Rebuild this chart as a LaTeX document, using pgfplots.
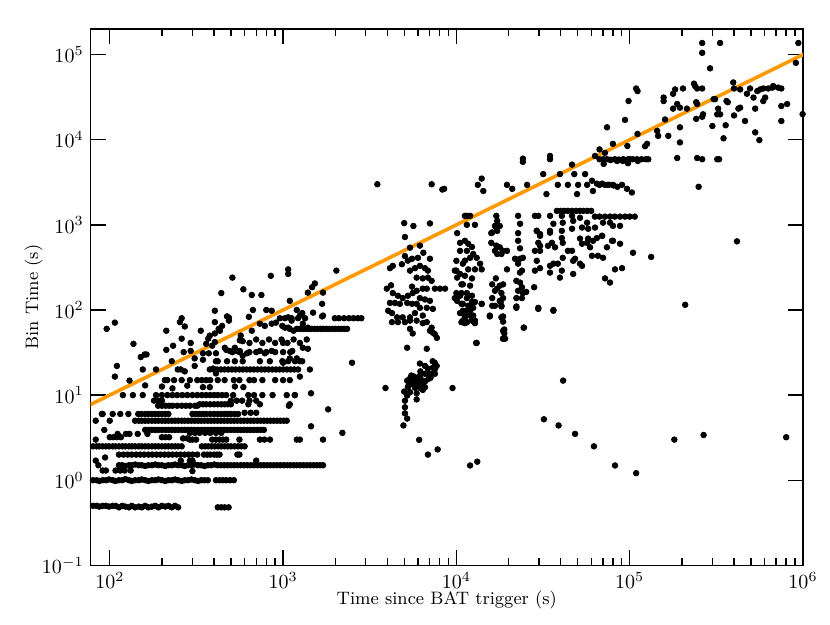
\documentclass[border=0pt]{standalone}
\usepackage{pgfplots}
\pgfplotsset{compat=1.18}
\usetikzlibrary{calc}
\definecolor{fitorange}{RGB}{255,153,0}
\begin{document}
\begin{tikzpicture}
\begin{axis}[
  scale only axis, width=356pt, height=268pt,
  xmode=log, ymode=log,
  xmin=77.5, xmax=1e6, ymin=0.1, ymax=2e5,
  xtick={1e2,1e3,1e4,1e5,1e6},
  ytick={1e-1,1,1e1,1e2,1e3,1e4,1e5},
  yminorticks=false,
  tick align=inside, tick pos=both,
  major tick length=7.5pt, minor tick length=3.5pt,
  tick style={black, line width=0.7pt},
  axis line style={line width=0.8pt},
  tick label style={font=\normalsize},
  label style={font=\small},
  xlabel={Time since BAT trigger (s)},
  ylabel={Bin Time (s)},
  x label style={at={(axis description cs:0.5,-0.065)}, anchor=center},
  y label style={at={(axis description cs:-0.08,0.5)}, anchor=center},
]
% dense rows, early times
\addplot[only marks, mark=*, mark size=1.4pt, black] coordinates {
(80,0.5)(84,0.5)(87,0.49)(91,0.5)(95,0.5)(99,0.49)(104,0.5)(108,0.5)(113,0.48)(118,0.5)(123,0.49)(129,0.48)(134,0.5)(140,0.48)(147,0.49)(153,0.48)(160,0.5)(167,0.48)(175,0.49)(183,0.5)(191,0.48)(200,0.5)(209,0.49)(218,0.5)(228,0.48)(238,0.5)(248,0.48)(420,0.48)(440,0.48)(460,0.48)(485,0.48)
(80,1)(84,1)(87,0.98)(91,1)(95,1)(99,1.02)(104,1)(108,0.98)(113,1)(118,1)(123,1.03)(129,1)(134,0.98)(140,1)(147,1)(153,1.02)(160,1)(167,0.98)(175,1)(183,1)(191,1.02)(200,1)(209,0.98)(218,1)(228,1)(238,1.02)(248,1)(260,0.98)(271,1)(283,1)(296,1.02)(309,1)(323,0.98)(337,1)(352,1)(368,1)(410,1)(430,1)(450,1)(470,1)(495,1)(520,1)
(113,1.5)(118,1.5)(123,1.47)(129,1.5)(134,1.5)(140,1.53)(147,1.5)(153,1.5)(160,1.47)(167,1.5)(175,1.5)(183,1.53)(191,1.5)(200,1.5)(209,1.47)(218,1.5)(228,1.5)(238,1.53)(248,1.5)(260,1.5)(271,1.47)(283,1.5)(296,1.5)(309,1.53)(323,1.5)(337,1.5)(352,1.47)(368,1.5)(384,1.5)(401,1.53)(419,1.5)(438,1.5)(458,1.5)(478,1.5)(500,1.5)(522,1.5)(545,1.5)(570,1.5)(595,1.5)(622,1.5)(650,1.5)(679,1.5)(710,1.5)(742,1.5)(775,1.5)(810,1.5)(846,1.5)(884,1.5)(924,1.5)(965,1.5)(1008,1.5)(1054,1.5)(1101,1.5)(1150,1.5)(1202,1.5)(1256,1.5)(1312,1.5)(1371,1.5)(1433,1.5)(1497,1.5)(1564,1.5)(1634,1.5)(1700,1.5)
(113,2)(120,2)(127,2)(134,2)(142,2)(150,2)(158,2)(167,2)(176,2)(186,2)(196,2)(207,2)(218,2)(230,2)(243,2)(256,2)(270,2)(285,2)(300,2)(320,2)(350,2)(365,2)(380,2)(400,2)(415,2)(430,2)(545,2)(560,2)
(80,2.5)(84,2.5)(87,2.5)(91,2.5)(95,2.5)(99,2.5)(104,2.5)(108,2.5)(113,2.5)(118,2.5)(123,2.5)(129,2.5)(134,2.5)(140,2.5)(147,2.5)(153,2.5)(160,2.5)(167,2.5)(175,2.5)(183,2.5)(191,2.5)(200,2.5)(209,2.5)(218,2.5)(228,2.5)(238,2.5)(248,2.5)(260,2.5)(340,2.5)(355,2.5)(370,2.5)(387,2.5)(404,2.5)(422,2.5)(440,2.5)(460,2.5)(480,2.5)(500,2.5)(525,2.5)(550,2.5)(575,2.5)(600,2.5)
(100,3.2)(105,3.2)(110,3.2)(116,3.2)(200,3.2)(210,3.2)(220,3.2)(265,3.1)(280,3.1)(290,3)(300,3)(315,3)(390,3)(410,3)(430,3)(450,3)(470,3)(560,3)(735,3)(780,3)(840,3)(1200,3)(1250,3)(1700,3)
(111,3.5)(124,3.5)(130,3.5)(145,3.5)(165,3.5)(290,3.6)(310,3.6)(330,3.6)(355,3.6)(380,3.6)(410,3.6)(440,3.6)
(160,3.9)(167,3.9)(175,3.9)(183,3.9)(191,3.9)(200,3.9)(209,3.9)(218,3.9)(228,3.9)(238,3.9)(248,3.9)(260,3.9)(271,3.9)(283,3.9)(296,3.9)(309,3.9)(323,3.9)(337,3.9)(352,3.9)(368,3.9)(384,3.9)(401,3.9)(419,3.9)(438,3.9)(458,3.9)(478,3.9)(500,3.9)(522,3.9)(545,3.9)(570,3.9)(595,3.9)(622,3.9)(650,3.9)(679,3.9)(710,3.9)(742,3.9)(775,3.9)
(140,5)(147,5)(153,5)(160,5)(167,5)(175,5)(183,5)(191,5)(200,5)(209,5)(218,5)(228,5)(238,5)(248,5)(260,5)(271,5)(283,5)(296,5)(309,5)(323,5)(337,5)(352,5)(368,5)(384,5)(401,5)(419,5)(438,5)(458,5)(478,5)(500,5)(522,5)(545,5)(570,5)(595,5)(622,5)(650,5)(679,5)(710,5)(742,5)(775,5)(810,5)(846,5)(884,5)(924,5)(965,5)(1008,5)(1050,5)
(90,6)(104,6)(115,6)(128,6)(146,6)(152,6)(160,6)(167,6)(175,6)(183,6)(191,6)(200,6)(209,6)(218,6)(300,6)(315,6)(330,6)(345,6)(360,6)(380,6)(400,6)(420,6)(440,6)(460,6)(480,6)(500,6)(525,6)(550,6)(600,6.2)(650,6.2)(700,6.2)
(190,7.5)(200,7.5)(210,7.5)(220,7.5)(230,7.5)(245,7.5)(260,7.5)(275,7.5)(290,7.5)(310,7.5)(320,7.5)(330,7.8)(345,7.8)(360,7.8)(380,7.8)(400,7.8)(420,7.8)(440,7.8)(460,7.8)(480,7.8)(500,7.8)(630,7.8)(735,7.8)(1094,7.8)
(180,8.6)(190,8.6)(200,8.6)(500,8.6)(540,8.6)(580,8.6)(640,8.6)(700,8.6)
(119,10)(136,10)(155,10)(185,10)(200,10)(215,10)(230,10)(245,10)(262,10)(280,10)(300,10)(320,10)(340,10)(360,10)(380,10)(400,10)(420,10)(445,10)(470,10)(515,10)(630,10)(680,10)(760,10)(870,10)(1050,10)(1170,10)(1450,10.5)
(160,13)(200,12.6)(230,12)(280,12.9)(345,12.4)(378,12.4)(527,12.6)(590,12.4)
(130,14.8)(208,15)(215,15)(235,15)(260,15)(290,15)(320,15)(340,15)(360,15)(380,15)(420,15)(460,15)(520,15)(560,15)(640,15)(680,15)(760,15)(900,15)(1000,15)(1094,15)(1250,16.5)
(155,20)(185,20)(247,20)(257,20)(271,19)(378,20)(397,20)(417,20)(438,20)(460,20)(483,20)(507,20)(532,20)(559,20)(587,20)(616,20)(647,20)(679,20)(713,20)(749,20)(786,20)(825,20)(866,20)(909,20)(955,20)(1003,20)(1053,20)(1105,20)(1160,20)(1220,20)(1428,20)
(228,25)(410,25)(420,25)(475,25)(527,25)(585,25)(735,25)(839,25)(990,25)(1000,24)(1070,25)(1094,27)(1170,25)(1250,25)(1290,25)(309,27)(345,26)
(510,32)(560,32)(640,32)(700,32)(800,32)(900,32)(1000,32)(1100,32)(461,36)(493,33)(527,36)(563,33)(585,29)(620,31)(735,33)(785,31)(860,33)(1130,33)(1200,27)(1300,36)(1390,35)
(585,43)(640,41)(700,45)(760,41)(830,45)(900,41)(980,45)(1060,41)(1150,45)(1250,41)(1370,45)
(1200,60)(1250,60)(1300,60)(1350,60)(1405,60)(1460,60)(1520,60)(1580,60)(1645,60)(1710,60)(1780,60)(1850,60)(1925,60)(2000,60)(2080,60)(2165,60)(2250,60)(2340,60)
(1990,80)(2100,80)(2250,80)(2400,80)(2550,80)(2700,80)(2830,80)
};
% scattered points, early times
\addplot[only marks, mark=*, mark size=1.4pt, black] coordinates {
(96,60)(107,71)(110,22)(107,16.5)(137,40)(151,28)(159,30)(163,30)(212,57)(212,34)(232,38)(254,72)(260,80)(271,64)(260,46)(267,32)(293,41)(293,33)(309,22)(335,57)(345,31)(360,40)(370,46)(373,31)(404,98)(404,72)(404,53)(404,42)(410,31)(395,20.5)(410,18)(432,57)(445,65)(487,81)(487,75)(635,83)(660,57)(670,100)(735,69)(785,65)(860,69)(910,71)(800,100)(860,98)(1024,80)(1024,62)(1094,60)(1120,75)
(510,240)(850,252)(1070,300)(1070,265)(2030,290)(1526,205)(1470,185)(1390,160)(1700,160)(1680,118)(1094,128)(440,158)(590,175)(660,150)(750,150)(475,84)(425,60)(570,50)(563,44)(1490,93)(1700,86)(958,80)(1070,82)(1120,80)(990,65)(1070,62)(1200,100)(1250,86)(1680,84)(1290,92)(1220,80)(1340,80)(1300,69)(1390,62)(1150,57)(378,50)(390,38)(470,34)(540,33)(1000,41)
(2500,24)(2200,3.6)(1450,4.3)(1820,6.8)(1080,7.5)(1170,10)
(83,5)(100,5)(91,6)(83,1.7)(94,1.85)(91,1.3)(95,1.3)(108,1.3)(115,1.3)(122,1.3)(132,1.3)(300,1.28)(700,1.7)(290,1.7)(300,1.7)(257,1.7)(83,3)(86,1.5)(93,3.9)
};
% 3e3 - 1e4 s
\addplot[only marks, mark=*, mark size=1.4pt, black] coordinates {
(3500,3000)(7200,3000)(8500,2650)(5000,1050)(5650,970)(7040,1040)(5050,720)(5400,540)(6160,570)(5050,430)(5250,380)(5550,400)(6000,410)(6450,470)(4300,330)(4140,310)(4850,345)(5400,290)(5770,310)(6160,330)(6590,310)(7040,400)(6850,290)(5900,240)(6400,235)(6850,240)(7200,220)(3970,178)(4200,195)(5550,188)(5900,168)(6400,178)(6750,178)(7520,178)(8040,178)(8600,178)(4300,158)(4600,147)(4900,138)(5250,147)(5600,158)(6160,138)(6590,133)(7040,128)(4140,121)(4420,121)(4720,118)(5200,121)(5550,118)(5900,118)(6160,106)(6750,106)(7320,103)(4040,98)(4250,92)(4550,82)(4900,82)(5400,82)(5770,92)(6400,86)(4250,72)(4600,72)(5050,72)(5400,75)(5900,75)(6400,70)(6750,72)(7200,62)(7320,54)(7720,47)(7040,57)(7520,52)(5400,60)(5600,53)(5200,36)(6750,35)
(6160,23.5)(6590,22)(6850,20.5)(7320,21)(7200,17.8)(7520,17.8)(6590,17.8)(6160,16.9)(5770,16)(5400,15.6)(5200,14.8)(5550,13.6)(5900,13.6)(6400,13.6)(5250,12.4)(5770,12.2)(6160,12.2)(6590,12.4)(5400,10.8)(5900,10.5)(5200,9.9)(5900,8.9)(5500,17)(5700,16.5)(6000,15)(6300,15)(6600,14.5)(6900,15.5)(7100,16)(6800,18)(6200,19)(7500,20)(7700,22)(7500,24)(7300,25)(5600,14)(6000,12.8)(6400,11.5)(5000,11)(5300,13)
(5050,8.6)(5050,7.2)(5050,6.1)(5200,5.3)(4950,4.4)
(3900,12.1)(9500,12.1)(6100,2.98)(6850,2.0)(7800,2.3)(12000,1.49)(13200,1.65)
};
% 1e4 - 1e5 s
\addplot[only marks, mark=*, mark size=1.4pt, black] coordinates {
(10100,800)(11200,650)(11700,600)(12300,550)(11500,495)(12500,455)(10500,495)(10000,378)(10900,350)(12000,410)(13100,410)(13700,350)(12800,300)(14000,300)(9800,290)(10500,265)(11200,252)(10700,200)(12300,235)(12000,193)(10000,158)(10700,158)(11500,158)(12300,147)(9800,138)(10900,118)(11700,112)(12500,106)(10700,92)(11200,82)(12000,86)(10900,72)(11500,72)(12300,75)(12800,70)(14000,118)(13100,41)
(11200,1275)(11500,1000)(10500,615)(11200,380)(10000,290)(10100,240)(10900,200)(10500,147)(11500,138)(10700,118)(11500,98)(11200,92)(11700,300)
(16100,815)(17000,930)(17800,970)(15900,615)(17000,570)(17800,545)(16700,495)(18600,495)(19600,495)(17200,455)(18200,455)(16900,235)(16100,200)(17800,193)(18600,200)(16700,168)(17200,178)(18200,158)(18600,138)(16100,138)(17800,128)(18200,112)(16100,112)(15600,86)(18200,82)(18600,57)(18600,46)(19600,300)
(22700,800)(22700,650)(23300,530)(21800,400)(23300,400)(24200,410)(22700,350)(23900,290)(23300,275)(22200,220)(23300,210)(23900,185)(22700,168)(24200,158)(25300,163)(22200,138)(23900,138)(22200,106)(24500,62)(28100,185)
(29100,850)(30400,743)(29700,615)(30400,567)(28400,495)(30400,495)(29100,378)(30400,310)(28400,290)(29700,106)(36300,98)
(34700,810)(35600,615)(33800,567)(37100,545)(34700,330)(36300,350)(34700,275)(38500,350)(40600,290)(39600,240)
(40600,700)(41100,615)(41100,410)(44000,495)(46500,495)(47200,378)(48400,400)(51700,350)(47200,265)(53100,330)
(51700,690)(53100,600)(56800,615)(57600,690)(61400,649)(64700,700)(69300,743)(59100,545)(60600,433)(65600,433)(70200,410)(73900,545)(79100,649)(80100,649)(88000,600)(82300,300)(90300,310)(72100,235)(77000,210)(104500,470)
(8300,2600)(13300,2950)(14000,3500)(14300,2500)(19600,2950)(21000,2650)(25600,2950)(31700,3950)(33100,2300)(38500,2950)(39600,3950)(44000,2950)(47900,3950)(49700,2300)(50400,2950)(46500,5100)(55300,3950)(56800,2950)(60600,3300)(61400,2500)(64700,3050)(69300,3050)(74700,2950)(80100,2950)(84600,5630)(90300,2950)(96500,2650)(103000,2400)
(24200,6000)(24200,5500)(34700,6450)(34700,5900)(63100,6450)(70800,5900)(70800,5200)(77000,5800)(84600,5800)(91300,5630)(97800,5300)(100500,5900)(111500,5630)
(38000,1460)(40000,1460)(42000,1460)(44000,1460)(46500,1460)(49000,1460)(51500,1460)(54000,1460)(57000,1460)(60000,1460)
(63000,1250)(67000,1250)(72000,1250)(77000,1250)(82000,1250)(88000,1250)(94000,1250)(100000,1250)(107000,1250)
(11500,1275)(12000,1275)(12800,1000)(17000,1275)(17200,1114)(16700,973)(17200,850)(15900,800)(22700,1275)(23300,1030)(28400,1275)(29700,1275)(29100,850)(30400,780)(34700,1275)(36300,1030)(34700,850)(40600,1275)(41100,1060)(40600,850)(46500,1275)(47200,1114)(46500,900)(51700,1210)(53100,930)(56800,1060)(57600,900)(63100,930)(69300,743)(70200,1060)(77000,1060)(80100,973)(88000,973)
(10100,128)(12300,124)(12800,124)(14000,118)(16700,112)(18000,124)(18200,110)(22200,110)(29700,103)(36300,100)(10500,92)(10900,98)(11700,92)(12000,98)(12300,112)(12500,86)(12800,75)(10900,75)(11200,70)(11500,72)(10700,72)(15600,84)(18600,84)(18600,73)(18900,59)(18900,53)(18600,46)(19100,46)(13000,41)(24500,62)
(41300,14.8)(32000,5.2)(38900,4.4)(48400,3.5)(62200,2.5)(82300,1.49)(109000,1.21)
};
% late times
\addplot[only marks, mark=*, mark size=1.4pt, black] coordinates {
(209000,115)(181000,3.0)(267000,3.4)(800000,3.2)(133000,420)(416000,640)
(262000,137000)(262000,105000)(332500,137000)(940000,137000)(910000,80000)(995000,20000)(291000,69000)(235000,45600)(238500,42700)(245000,40000)(262000,40000)(203000,40000)(183000,39000)(178000,34700)(109000,40000)(111000,37300)(157000,31300)(157000,28500)(188000,26300)(195000,23800)(178000,23200)(214000,23200)(242000,27600)(245000,26300)(98500,28500)(94000,17100)(74000,14000)
(305000,30000)(311000,30000)(324000,23200)(320000,19900)(332500,19900)(362000,28500)(368000,27600)(396000,47100)(400000,40000)(424000,23200)(434000,23800)(400000,19300)(434000,39000)(475000,34700)(495000,40000)(518000,31300)(545000,37300)(566000,39000)(590000,40000)(605000,31300)(590000,28500)(630000,40000)(665000,41000)(673000,42700)(718000,41000)(750000,40000)(750000,24900)(810000,26300)(750000,16600)(530000,23200)(530000,12200)(560000,9900)(463000,16600)
(160000,17300)(144000,12700)(146000,11100)(167000,11100)(242000,17600)(262000,18600)(265000,19900)(300000,14500)(358000,14800)(348000,10400)(195000,14000)(195000,9300)(188000,6100)(245000,6100)(262000,5900)(320000,5900)(328000,5900)(250000,2800)
(126000,8950)(122700,8400)(111000,11700)(97000,8450)(80000,8950)(67000,7700)(72000,7000)
(67000,5900)(70000,5850)(74000,5900)(78000,5800)(82000,5900)(87000,5850)(92000,5900)(98000,5900)(104000,5900)(110000,5900)(117000,5900)(124000,5900)(128000,5900)
(67000,2950)(72000,2950)(76000,2950)(81000,2900)(85000,2800)
};
% power-law reference line
\addplot[fitorange, line width=1.8pt] coordinates {(70,7) (1.1e6,1.1e5)};
\end{axis}
\pgfresetboundingbox
\path ($(current axis.south west)+(-45.25pt,-29.5pt)$) rectangle ($(current axis.north east)+(13.5pt,14.5pt)$);
\end{tikzpicture}
\end{document}
